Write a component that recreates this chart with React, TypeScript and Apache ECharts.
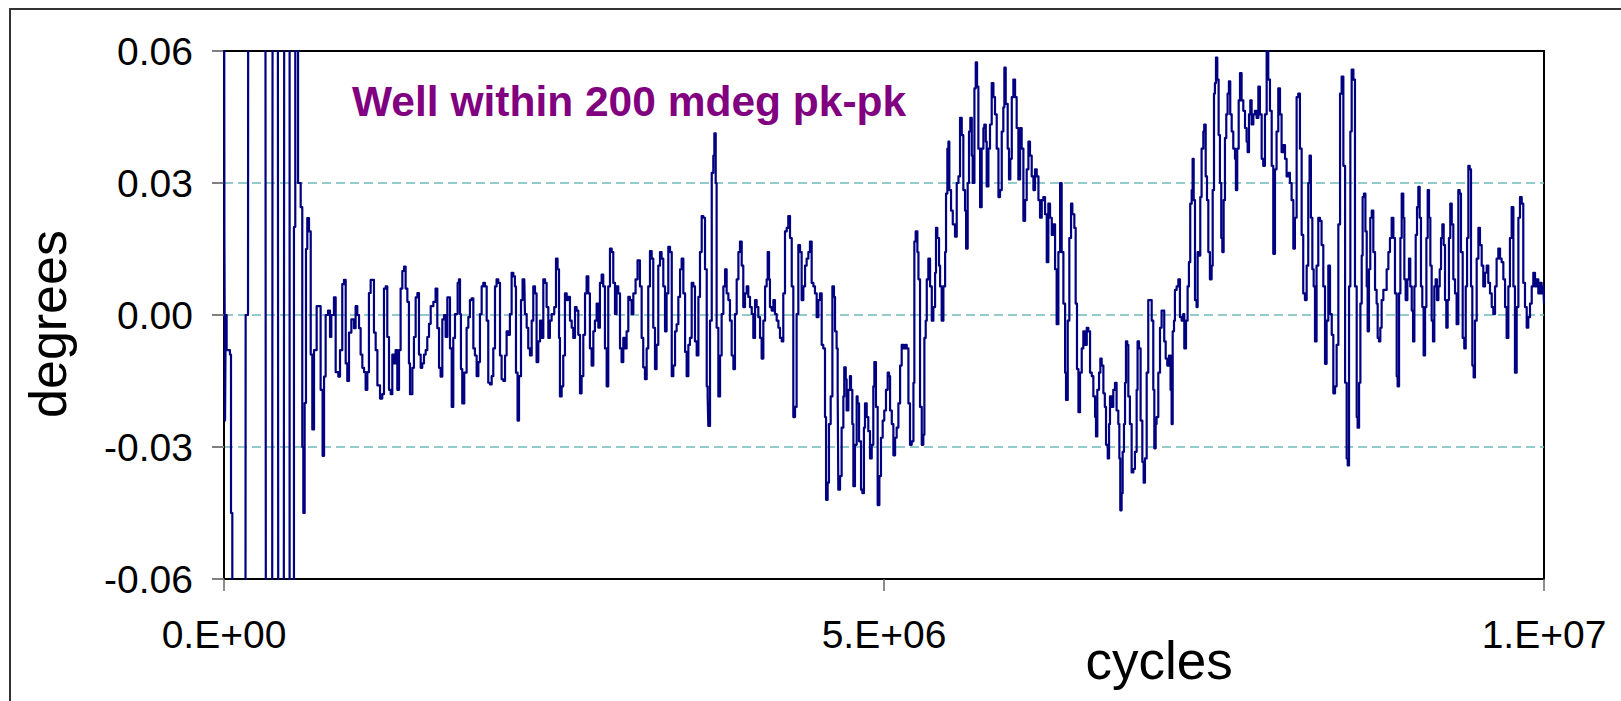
import React, { useEffect, useRef } from "react";
import * as echarts from "echarts";

// x in thousands of cycles, y in degrees
const seg1: [number, number][] = [
  [0, 0.12], [3, 0.018], [8, -0.024], [13, 0.0], [20, -0.008], [45, -0.009], [53, -0.045], [63, -0.12],
  [162, -0.12], [164, 0.0], [182, 0.007], [184, 0.12], [313, 0.12], [318, -0.12], [364, -0.12], [369, 0.12],
  [407, 0.12], [412, -0.12], [452, -0.12], [457, 0.12], [490, 0.12], [497, -0.12], [523, -0.12], [530, 0.02],
  [540, 0.12], [553, 0.12], [561, 0.03], [581, 0.0245], [593, -0.03], [601, -0.045], [611, -0.02], [621, 0.015],
  [631, 0.022], [644, 0.019], [657, -0.009], [669, -0.026], [682, -0.008], [702, 0.002], [720, 0.002], [732, -0.017],
  [747, -0.032], [758, -0.014], [770, 0.0], [788, 0.001], [803, -0.005], [813, 0.0], [833, 0.004], [846, -0.013],
  [866, -0.014], [879, -0.008], [896, 0.007], [909, 0.008], [922, -0.011], [934, -0.015], [947, -0.004], [965, -0.001],
  [985, -0.003], [997, 0.002], [1010, 0.0], [1023, -0.003], [1035, -0.009], [1048, -0.012], [1061, -0.013], [1073, -0.017],
  [1086, -0.013], [1098, 0.005], [1111, 0.008], [1124, 0.008], [1136, -0.004], [1149, -0.008], [1162, -0.016], [1182, -0.019],
  [1199, -0.018], [1212, 0.006], [1225, 0.0065], [1237, -0.005], [1250, -0.017], [1263, -0.018], [1275, -0.009], [1288, -0.011],
  [1300, -0.008], [1313, -0.017], [1326, -0.008], [1338, 0.006], [1351, 0.01], [1364, 0.011], [1376, 0.006], [1389, 0.003],
  [1401, -0.011], [1409, -0.018], [1427, -0.012], [1439, -0.005], [1452, 0.004], [1465, 0.005], [1477, -0.009], [1490, -0.012],
  [1502, -0.011], [1515, -0.009], [1528, -0.008], [1540, -0.005], [1553, -0.002], [1566, 0.002], [1586, 0.003], [1603, 0.006],
  [1616, -0.003], [1629, -0.012], [1641, -0.014], [1654, -0.001], [1667, 0.0], [1679, -0.005], [1692, 0.004],
];

const seg2: [number, number][] = [
  [1712, -0.0076], [1725, -0.0209], [1737, -0.0052], [1750, 0.0002], [1770, 0.0073], [1780, 0.0081], [1788, 0.0002], [1795, -0.0123],
  [1805, -0.0201], [1820, -0.0131], [1838, -0.0029], [1851, -0.0005], [1863, 0.0034], [1876, 0.0038], [1889, -0.0076], [1901, -0.0092],
  [1914, -0.0139], [1927, -0.0107], [1939, 0.0002], [1952, 0.0065], [1964, 0.0073], [1977, 0.0065], [1990, -0.0013], [2002, -0.0154],
  [2015, -0.0158], [2028, -0.0139], [2040, -0.0076], [2053, 0.0065], [2065, 0.0081], [2078, 0.0073], [2091, -0.0092], [2103, -0.0146],
  [2116, -0.015], [2129, -0.0092], [2141, -0.0037], [2154, -0.0045], [2166, 0.0002], [2179, 0.0096], [2192, 0.0088], [2204, 0.0065],
  [2212, -0.0131], [2224, -0.024], [2235, -0.0139], [2250, 0.0034], [2262, 0.0081], [2275, 0.0081], [2280, 0.0002], [2293, -0.0029],
  [2305, -0.0076], [2318, -0.0092], [2331, -0.0013], [2343, 0.0065], [2356, 0.0049], [2368, -0.0107], [2381, -0.006], [2394, -0.0013],
  [2406, -0.0052], [2419, 0.0081], [2432, 0.0073], [2444, 0.0018], [2457, -0.0052], [2469, -0.0013], [2482, 0.0002], [2502, 0.0018],
  [2515, 0.0128], [2527, 0.0104], [2538, -0.0052], [2545, -0.0185], [2558, -0.0162], [2570, -0.0092], [2583, 0.0049], [2596, 0.0034],
  [2608, 0.0041], [2621, -0.0013], [2634, -0.0029], [2646, -0.0052], [2659, 0.0018], [2671, 0.001], [2684, -0.0045], [2697, -0.0178],
  [2709, -0.0139], [2722, -0.0045], [2735, 0.0049], [2747, 0.0088], [2760, 0.0049], [2772, -0.0076], [2785, -0.0115], [2798, -0.0037],
  [2810, -0.0013], [2823, 0.0026], [2836, -0.0029], [2848, 0.0073], [2861, 0.0092], [2873, 0.0065], [2886, -0.0076], [2899, -0.0162],
  [2911, 0.0065], [2924, 0.0151], [2937, 0.0143], [2949, 0.0073], [2962, 0.0002], [2974, 0.0065], [2987, 0.0049], [3000, -0.0076],
  [3012, -0.0107], [3025, -0.0052], [3038, -0.0076], [3050, -0.0037], [3063, 0.0041], [3075, 0.0034], [3088, 0.0002], [3101, 0.0049],
  [3118, 0.0081], [3133, 0.0124], [3151, 0.0065], [3164, -0.0052], [3176, -0.0119], [3189, -0.0146], [3202, -0.0076], [3214, 0.0065],
  [3227, 0.0145], [3240, 0.0128], [3252, -0.0029], [3265, -0.0123], [3277, -0.0068], [3290, 0.0112], [3303, 0.0143], [3315, 0.0128],
  [3328, 0.0065], [3341, -0.0037], [3353, 0.0049], [3366, 0.0155],
];

const seg3: [number, number][] = [
  [3379, 0.0143], [3392, -0.0139], [3404, -0.0115], [3417, -0.0037], [3429, -0.0021], [3442, 0.0041], [3455, 0.0104], [3467, 0.0128],
  [3480, 0.0049], [3493, -0.0084], [3505, -0.0139], [3518, -0.0068], [3530, -0.0052], [3543, 0.0073], [3556, 0.0065], [3568, -0.006],
  [3581, -0.0092], [3594, 0.0041], [3606, 0.0143], [3619, 0.0225], [3631, 0.0221], [3644, 0.0104], [3657, -0.0162], [3664, -0.0185],
  [3669, -0.0252], [3682, -0.0013], [3695, 0.0323], [3707, 0.0362], [3715, 0.0413], [3725, 0.03], [3732, -0.0029], [3745, -0.0185],
  [3758, -0.0092], [3770, 0.0002], [3783, 0.0065], [3796, 0.0104], [3808, 0.0049], [3821, 0.0034], [3833, -0.0013], [3846, -0.0092],
  [3859, -0.0123], [3871, 0.0002], [3884, 0.0081], [3897, 0.0143], [3909, 0.0167], [3922, 0.0112], [3934, 0.0018], [3947, 0.0049],
  [3960, 0.0065], [3972, 0.0041], [3985, 0.0018], [3998, 0.0002], [4010, -0.0052], [4023, 0.0034], [4035, 0.0018], [4048, -0.0005],
  [4061, -0.0052], [4073, -0.0099], [4086, -0.0013], [4099, 0.0065], [4111, 0.0081], [4119, 0.0143], [4129, 0.0081], [4136, 0.0018],
  [4149, 0.001], [4162, 0.0034], [4174, 0.0002], [4187, -0.0013], [4200, -0.0029], [4212, -0.0052], [4225, -0.006], [4237, 0.0049],
  [4250, 0.019], [4263, 0.0198], [4275, 0.0225], [4288, 0.0175], [4301, 0.0065], [4313, -0.0232], [4326, -0.0209], [4338, 0.0002],
  [4351, 0.0159], [4364, 0.0143], [4376, 0.0034], [4389, 0.0065], [4402, 0.0112], [4414, 0.0128], [4427, 0.0143], [4439, 0.0167],
  [4452, 0.0073], [4465, 0.0065], [4477, 0.0049], [4490, -0.0005], [4503, 0.0034], [4515, 0.0049], [4528, -0.0068], [4540, -0.0076],
  [4553, -0.0232], [4561, -0.042], [4573, -0.0381], [4583, -0.0248], [4596, -0.0185], [4609, 0.0065], [4621, 0.0041], [4629, -0.0037],
  [4641, -0.0076], [4649, -0.017], [4654, -0.0397], [4667, -0.0366], [4679, -0.0256], [4692, -0.0185], [4699, -0.0119], [4710, -0.0146],
  [4717, -0.0217], [4730, -0.017], [4742, -0.0139], [4750, -0.017], [4760, -0.0248], [4768, -0.0389], [4780, -0.0295], [4793, -0.0185],
  [4800, -0.0201], [4811, -0.0287], [4826, -0.0397], [4836, -0.0405], [4848, -0.0256], [4856, -0.0201], [4869, -0.0232], [4881, -0.0264],
  [4894, -0.0326], [4907, -0.0295], [4919, -0.0162], [4927, -0.0107], [4939, -0.0209], [4952, -0.0432], [4965, -0.0366], [4977, -0.0279],
  [4990, -0.024], [5002, -0.0217], [5015, -0.017], [5028, -0.0131], [5038, -0.0139],
];

const seg4: [number, number][] = [
  [5046, -0.0217], [5059, -0.0248], [5071, -0.0319], [5084, -0.0279], [5096, -0.0256], [5109, -0.0201], [5122, -0.0115], [5134, -0.0068],
  [5147, -0.0076], [5160, -0.0068], [5172, -0.0076], [5185, -0.0201], [5197, -0.0295], [5210, -0.0287], [5223, -0.0154], [5230, 0.0167],
  [5240, 0.019], [5253, 0.0143], [5261, 0.0081], [5273, -0.0209], [5286, -0.0295], [5298, -0.0272], [5306, -0.0052], [5316, -0.0013],
  [5324, 0.0081], [5336, 0.0128], [5349, 0.0065], [5362, -0.0013], [5374, 0.0018], [5387, 0.0096], [5394, 0.0198], [5404, 0.0175],
  [5417, 0.0112], [5425, 0.0065], [5437, -0.0013], [5450, 0.0065], [5463, 0.0143], [5470, 0.0276], [5480, 0.0378], [5488, 0.0394],
  [5495, 0.0284], [5508, 0.0237], [5521, 0.0206], [5538, 0.0178], [5551, 0.03], [5564, 0.0315], [5576, 0.0448], [5589, 0.0409],
  [5601, 0.0284], [5614, 0.0237], [5622, 0.0151], [5634, 0.03], [5644, 0.0417], [5654, 0.0448], [5665, 0.0362], [5672, 0.03],
  [5685, 0.0515], [5695, 0.0574], [5705, 0.0519], [5715, 0.0378], [5728, 0.0245], [5740, 0.0378], [5753, 0.0425], [5760, 0.0433],
  [5771, 0.0394], [5778, 0.0292], [5791, 0.0378], [5803, 0.0433], [5816, 0.0527], [5829, 0.0495], [5841, 0.0456], [5854, 0.0378],
  [5867, 0.0268], [5879, 0.0284], [5892, 0.0417], [5904, 0.0472], [5912, 0.0562], [5922, 0.048], [5937, 0.0378], [5947, 0.0308],
  [5957, 0.0355], [5968, 0.0495], [5980, 0.0535], [5993, 0.0495], [6005, 0.0425], [6018, 0.0308], [6031, 0.0425], [6043, 0.0378],
  [6056, 0.0214], [6069, 0.0261], [6081, 0.0331], [6094, 0.0394], [6106, 0.0362], [6119, 0.0315], [6132, 0.0284], [6144, 0.0331],
  [6157, 0.0315], [6170, 0.0261], [6182, 0.0221], [6195, 0.0261], [6207, 0.0268], [6220, 0.0229], [6233, 0.012], [6245, 0.0253],
  [6258, 0.0221], [6271, 0.0182], [6283, 0.0206], [6296, 0.0104], [6308, -0.0021], [6321, 0.0143], [6334, 0.03], [6346, 0.0143],
  [6359, 0.0026], [6372, -0.0131], [6379, -0.0193], [6392, -0.0013], [6404, 0.0175], [6417, 0.0253], [6427, 0.0229], [6442, 0.0198],
  [6452, 0.0026], [6462, -0.0123], [6473, -0.0221], [6485, -0.0131], [6498, -0.0076], [6510, -0.0037], [6523, -0.0068], [6536, -0.0029],
  [6548, -0.0037], [6561, -0.0131], [6574, -0.0139], [6586, -0.0185], [6599, -0.0232], [6606, -0.0276], [6616, -0.017], [6629, -0.0131],
  [6639, -0.0099], [6649, -0.0115], [6662, -0.0178], [6673, -0.0209], [6682, -0.0295], [6695, -0.0326], [6705, -0.0248],
];

const seg5: [number, number][] = [
  [6712, -0.0185], [6725, -0.0209], [6737, -0.017], [6750, -0.0154], [6762, -0.0217], [6775, -0.0248], [6783, -0.0326], [6790, -0.0444],
  [6800, -0.0405], [6808, -0.0311], [6818, -0.0248], [6826, -0.0154], [6833, -0.006], [6843, -0.0068], [6851, -0.0185], [6863, -0.0248],
  [6876, -0.0358], [6889, -0.035], [6901, -0.0311], [6914, -0.017], [6921, -0.006], [6932, -0.0076], [6944, -0.024], [6957, -0.0334],
  [6967, -0.0381], [6977, -0.0326], [6990, -0.0131], [7002, 0.0034], [7015, 0.0034], [7028, -0.0013], [7040, -0.017], [7048, -0.0303],
  [7058, -0.0248], [7065, -0.0232], [7078, -0.0131], [7091, -0.0029], [7103, 0.001], [7116, 0.001], [7123, -0.006], [7134, -0.0099],
  [7146, -0.0115], [7159, -0.0092], [7171, -0.017], [7179, -0.0248], [7187, -0.0037], [7197, -0.0013], [7204, 0.0057], [7217, 0.0065],
  [7230, 0.0081], [7242, -0.0005], [7255, -0.0013], [7267, 0.0002], [7275, -0.0076], [7288, -0.0013], [7300, 0.0065], [7310, 0.012],
  [7320, 0.0253], [7331, 0.0284], [7338, 0.0355], [7346, 0.0261], [7356, 0.0034], [7368, 0.0018], [7376, 0.0143], [7386, 0.0135],
  [7396, 0.0268], [7406, 0.0378], [7419, 0.0417], [7426, 0.0433], [7437, 0.0315], [7447, 0.0261], [7457, 0.0143], [7469, 0.0081],
  [7482, 0.0112], [7490, 0.0284], [7500, 0.0503], [7507, 0.0527], [7515, 0.0585], [7525, 0.0535], [7535, 0.0409], [7545, 0.03],
  [7555, 0.0175], [7563, 0.0143], [7573, 0.0261], [7583, 0.0402], [7593, 0.0456], [7603, 0.0503], [7613, 0.0531], [7623, 0.0456],
  [7634, 0.0417], [7646, 0.0378], [7659, 0.0355], [7666, 0.0284], [7676, 0.0378], [7687, 0.0488], [7697, 0.055], [7709, 0.0488],
  [7722, 0.0464], [7735, 0.0425], [7747, 0.0394], [7755, 0.037], [7765, 0.0456], [7775, 0.0488], [7785, 0.0433], [7798, 0.0456],
  [7810, 0.0464], [7823, 0.0448], [7836, 0.0519], [7848, 0.0456], [7861, 0.0355], [7873, 0.0339], [7886, 0.0456], [7899, 0.0601],
  [7911, 0.0535], [7924, 0.0464], [7937, 0.0339], [7949, 0.0139], [7962, 0.0331], [7974, 0.0417], [7987, 0.0515], [8000, 0.0456],
  [8012, 0.037], [8025, 0.0386], [8038, 0.0355], [8050, 0.0315], [8063, 0.0323], [8075, 0.03], [8088, 0.0261], [8101, 0.0151],
  [8113, 0.0221], [8126, 0.0495], [8138, 0.0503], [8151, 0.0378], [8164, 0.0182], [8176, 0.0049], [8189, 0.0034], [8202, 0.0112],
  [8214, 0.03], [8224, 0.0362], [8234, 0.0221], [8245, 0.0104], [8255, 0.0065], [8265, -0.006], [8277, 0.0112], [8290, 0.0221],
  [8303, 0.0214], [8315, 0.0159], [8328, 0.0065], [8341, -0.0111], [8353, -0.0013], [8366, 0.0112],
];

const seg6: [number, number][] = [
  [8379, 0.0002], [8392, -0.0045], [8404, -0.0178], [8417, -0.0162], [8429, -0.0068], [8442, 0.0206], [8455, 0.0503], [8467, 0.0542],
  [8480, 0.0339], [8493, -0.0154], [8505, -0.0326], [8513, -0.0342], [8523, 0.0065], [8533, 0.0417], [8543, 0.0558], [8556, 0.0535],
  [8568, 0.0065], [8581, -0.0232], [8588, -0.0256], [8599, -0.0154], [8609, 0.0026], [8619, 0.0135], [8626, 0.0268], [8636, 0.0276],
  [8647, 0.019], [8657, 0.0065], [8664, -0.0037], [8674, 0.0104], [8684, 0.0221], [8695, 0.0237], [8707, 0.0143], [8720, 0.0057],
  [8732, 0.0026], [8740, -0.0052], [8750, -0.006], [8760, -0.0029], [8770, 0.0034], [8783, 0.0057], [8796, 0.0057], [8808, 0.0104],
  [8821, 0.0143], [8833, 0.0175], [8846, 0.0221], [8859, 0.0175], [8871, 0.0049], [8884, -0.0139], [8891, -0.0162], [8902, 0.0049],
  [8912, 0.0175], [8922, 0.0276], [8934, 0.0221], [8942, 0.0081], [8952, 0.0034], [8965, 0.0081], [8977, 0.0128], [8987, 0.0065],
  [8998, 0.001], [9008, -0.006], [9018, 0.0065], [9028, 0.0182], [9038, 0.0245], [9048, 0.0291], [9058, 0.0221], [9068, 0.0065],
  [9078, 0.0018], [9088, -0.0092], [9099, 0.0018], [9109, 0.0175], [9119, 0.0284], [9129, 0.0221], [9139, 0.0112], [9149, -0.0013],
  [9159, -0.006], [9169, 0.0065], [9179, 0.0081], [9189, 0.0034], [9200, 0.0065], [9210, 0.0104], [9220, 0.0175], [9230, 0.0206],
  [9240, 0.0159], [9250, 0.0034], [9260, -0.0029], [9270, 0.0034], [9280, 0.0175], [9290, 0.0253], [9301, 0.0206], [9313, 0.0081],
  [9326, 0.0049], [9338, -0.0021], [9351, 0.0284], [9361, 0.0276], [9371, 0.0143], [9384, -0.0052], [9396, -0.0076], [9407, 0.0065],
  [9417, 0.0175], [9427, 0.0339], [9437, 0.0331], [9447, 0.0065], [9457, -0.0115], [9467, -0.0142], [9477, -0.0013], [9490, 0.0128],
  [9503, 0.0198], [9515, 0.0159], [9528, 0.0112], [9540, 0.0065], [9553, 0.0096], [9566, 0.0112], [9578, 0.0073], [9591, 0.0049],
  [9604, 0.0018], [9616, 0.0002], [9629, 0.0065], [9641, 0.0128], [9654, 0.0151], [9667, 0.0128], [9679, 0.012], [9692, 0.0081],
  [9705, 0.0018], [9717, -0.0052], [9730, 0.0065], [9742, 0.0175], [9755, 0.0245], [9768, 0.0065], [9780, -0.0131], [9793, 0.0018],
  [9806, 0.0221], [9818, 0.0268], [9831, 0.0253], [9843, 0.0073], [9856, 0.0018], [9869, -0.0029], [9881, -0.0005], [9894, 0.0026],
  [9907, 0.0065], [9919, 0.0096], [9932, 0.0065], [9944, 0.0081], [9957, 0.0049], [9970, 0.0073], [9982, 0.0049], [9995, 0.0065],
  [10000, 0.0026],
];

const xTicks = [0, 5e6, 1e7];
const yTicks = [-0.06, -0.03, 0, 0.03, 0.06];
const annotation = "Well within 200 mdeg pk-pk";
const xTitle = "cycles";
const yTitle = "degrees";

const FONT = '"Liberation Sans", Arial, Helvetica, sans-serif';

function sci(v: number): string {
  if (v === 0) return "0.E+00";
  const e = Math.floor(Math.log10(Math.abs(v)) + 1e-9);
  const m = Math.round(v / Math.pow(10, e));
  return `${m}.E+${String(e).padStart(2, "0")}`;
}

export default function App() {
  const ref = useRef<HTMLDivElement>(null);
  useEffect(() => {
    if (!ref.current) return;
    const chart = echarts.init(ref.current, undefined, { renderer: "svg" });
    const data = [...seg1, ...seg2, ...seg3, ...seg4, ...seg5, ...seg6].map(
      ([k, v]) => [k * 1000, v]
    );
    chart.setOption({
      animation: false,
      backgroundColor: "#ffffff",
      grid: {
        left: 224,
        top: 51,
        right: 77,
        bottom: 122,
        show: true,
        borderColor: "#000000",
        borderWidth: 2,
        backgroundColor: "transparent",
      },
      xAxis: {
        type: "value",
        min: xTicks[0],
        max: xTicks[xTicks.length - 1],
        interval: xTicks[1] - xTicks[0],
        axisLine: { show: true, onZero: false, lineStyle: { color: "#000000", width: 2 } },
        axisTick: { show: true, length: 12, inside: false, lineStyle: { color: "#666666", width: 1.5 } },
        axisLabel: {
          margin: 36,
          fontSize: 39,
          fontFamily: FONT,
          color: "#000000",
          formatter: (v: number) => sci(v),
        },
        splitLine: { show: false },
      },
      yAxis: {
        type: "value",
        min: yTicks[0],
        max: yTicks[yTicks.length - 1],
        interval: 0.03,
        axisLine: { show: true, onZero: false, lineStyle: { color: "#000000", width: 2 } },
        axisTick: { show: true, length: 12, inside: false, lineStyle: { color: "#808080", width: 2 } },
        axisLabel: {
          margin: 31,
          fontSize: 39,
          fontFamily: FONT,
          color: "#000000",
          formatter: (v: number) => (Math.abs(v) < 1e-9 ? "0.00" : v.toFixed(2)),
        },
        splitLine: {
          show: true,
          showMinLine: false,
          showMaxLine: false,
          lineStyle: { color: "#72b9b9", width: 1.5, type: [9, 5] },
        },
      },
      series: [
        {
          type: "line",
          data,
          step: "end",
          showSymbol: false,
          symbol: "none",
          clip: true,
          lineStyle: { color: "#000080", width: 2.2, join: "round" },
          z: 3,
        },
      ],
      graphic: [
        {
          type: "rect",
          shape: { x: 10, y: 9, width: 1700, height: 800 },
          style: { fill: "none", stroke: "#333333", lineWidth: 2 },
          silent: true,
        },
        {
          type: "text",
          x: 352,
          y: 101,
          style: {
            text: annotation,
            font: `bold 42.5px ${FONT}`,
            fill: "#800080",
            align: "left",
            verticalAlign: "middle",
          },
          z: 10,
        },
        {
          type: "text",
          x: 48,
          y: 324,
          rotation: Math.PI / 2,
          style: {
            text: yTitle,
            font: `52px ${FONT}`,
            fill: "#000000",
            align: "center",
            verticalAlign: "middle",
          },
        },
        {
          type: "text",
          x: 1159,
          y: 660,
          style: {
            text: xTitle,
            font: `53px ${FONT}`,
            fill: "#000000",
            align: "center",
            verticalAlign: "middle",
          },
        },
      ],
    });
    return () => chart.dispose();
  }, []);
  return (
    <div
      ref={ref}
      style={{ position: "fixed", left: 0, top: 0, width: 1621, height: 701, background: "#fff" }}
    />
  );
}
